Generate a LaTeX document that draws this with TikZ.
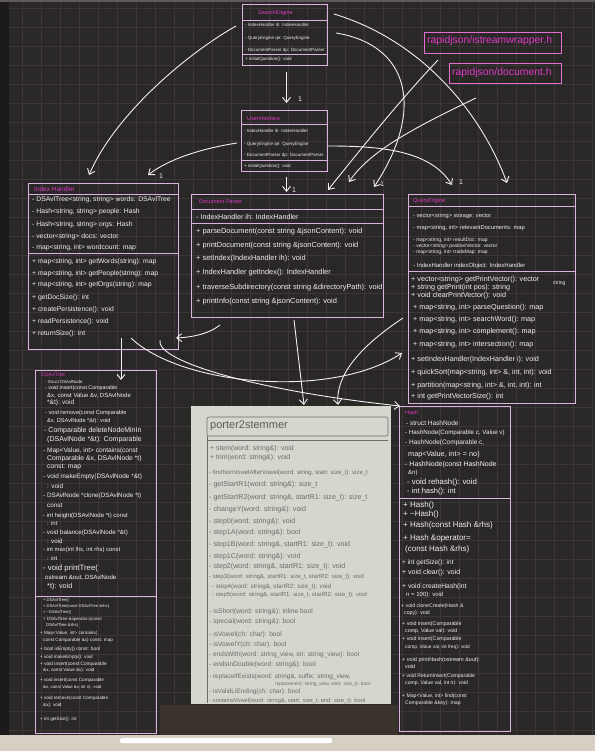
\documentclass[tikz,border=0pt]{standalone}
\usepackage{fontspec}
\setmainfont{Liberation Sans}
\usetikzlibrary{arrows.meta,calc}

\definecolor{board}{HTML}{2A2727}
\definecolor{gridc}{HTML}{3B3637}
\definecolor{boxc}{HTML}{DDB2E0}
\definecolor{titlec}{HTML}{E03CC6}
\definecolor{chalk}{HTML}{F2EEF2}
\definecolor{paper}{HTML}{D5D7CF}
\definecolor{pencil}{HTML}{6A6B68}
\definecolor{bezel}{HTML}{D6D0C4}
\definecolor{lowband}{HTML}{3A332D}
\definecolor{edge}{HTML}{1B1919}
\definecolor{topband}{HTML}{5E5A5B}

\tikzset{
  classbox/.style={draw=boxc, line width=0.9pt},
  sepline/.style={draw=boxc, line width=0.8pt},
  ttl/.style={anchor=west, text=titlec, inner sep=0pt, font=\fontsize{5.5}{6}\selectfont},
  row/.style={anchor=west, text=chalk, inner sep=0pt, font=\fontsize{#1}{#1}\selectfont},
  row/.default=5,
  prow/.style={anchor=west, text=pencil, inner sep=0pt, font=\fontsize{#1}{#1}\selectfont},
  prow/.default=7.1,
  conn/.style={draw=chalk, line width=0.9pt, -{Straight Barb[length=5pt,width=8pt]}},
  mult/.style={text=chalk, inner sep=0pt, font=\fontsize{7}{8}\selectfont},
  headertext/.style={text=titlec, inner sep=0pt, font=\fontsize{10.4}{11}\selectfont},
  headerframe/.style={draw=titlec!75!white, line width=0.8pt}
}

\begin{document}
\begin{tikzpicture}[x=1pt,y=-1pt]
% board and its grid
\fill[board] (0,0) rectangle (595,751);
\useasboundingbox (0,0) rectangle (595,751);
\foreach \gx in {3,22,...,595} \draw[gridc, line width=0.5pt] (\gx,0) -- (\gx,735);
\foreach \gy in {8,27,...,735} \draw[gridc, line width=0.5pt] (0,\gy) -- (595,\gy);
\fill[edge] (0,0) rectangle (9,735);
\fill[topband] (0,0) rectangle (595,2.5);

% ---------------- SearchEngine
\draw[classbox] (242,4) rectangle (327,65);
\node[ttl] (se-t) at (258,13) {SearchEngine};
\draw[sepline] (242,20) -- (327,20);
\draw[sepline] (242,54) -- (327,54);
\node[row=4.5] (se-a1) at (245,25) {- IndexHandler ih: IndexHandler};
\node[row=4.5] (se-a2) at (245,38) {- QueryEngine qe: QueryEngine};
\node[row=4.5] (se-a3) at (245,50) {- DocumentParser dp: DocumentParser};
\node[row=4.5] (se-m1) at (245,59.5) {+ initialQuestion(): void};

% ---------------- UserInterface
\draw[classbox] (241,110) rectangle (327,171);
\node[ttl] (ui-t) at (247,119) {UserInterface};
\draw[sepline] (241,124) -- (327,124);
\draw[sepline] (241,160) -- (327,160);
\node[row=4.5] (ui-a1) at (244,131) {- IndexHandler ih: IndexHandler};
\node[row=4.5] (ui-a2) at (244,144) {- QueryEngine qe: QueryEngine};
\node[row=4.5] (ui-a3) at (244,155) {- DocumentParser dp: DocumentParser};
\node[row=4.5] (ui-m1) at (244,166) {+ initialQuestion(): void};

% ---------------- Index Handler
\draw[classbox] (28,183) rectangle (178,349);
\node[ttl, font=\fontsize{6.5}{7}\selectfont] (ih-t) at (34,189) {Index Handler};
\draw[sepline] (28,194) -- (178,194);
\draw[sepline] (28,253) -- (178,253);
\node[row=6.8] (ih-a1) at (32,200) {- DSAvlTree<string, string> words: DSAvlTree};
\node[row=6.8] (ih-a2) at (32,212) {- Hash<string, string> people: Hash};
\node[row=6.8] (ih-a3) at (32,225) {- Hash<string, string> orgs: Hash};
\node[row=6.8] (ih-a4) at (32,237) {- vector<string> docs: vector};
\node[row=6.8] (ih-a5) at (32,248) {- map<string, int> wordcount: map};
\node[row=6.8] (ih-m1) at (32,262) {+ map<string, int> getWords(string): map};
\node[row=6.8] (ih-m2) at (32,274) {+ map<string, int> getPeople(string): map};
\node[row=6.8] (ih-m3) at (32,285) {+ map<string, int> getOrgs(string): map};
\node[row=6.8] (ih-m4) at (32,298) {+ getDocSize(): int};
\node[row=6.8] (ih-m5) at (32,310) {+ createPersistence(): void};
\node[row=6.8] (ih-m6) at (32,322) {+ readPersistence(): void};
\node[row=6.8] (ih-m7) at (32,334) {+ returnSize(): int};

% ---------------- Document Parser
\draw[classbox] (191,194) rectangle (383,317);
\node[ttl] (dp-t) at (199,202) {Document Parser};
\draw[sepline] (191,209) -- (383,209);
\draw[sepline] (191,223) -- (383,223);
\node[row=7.2] (dp-a1) at (196,217) {- IndexHandler ih: IndexHandler};
\node[row=7.4] (dp-m1) at (196,232) {+ parseDocument(const string \&jsonContent): void};
\node[row=7.4] (dp-m2) at (196,246) {+ printDocument(const string \&jsonContent): void};
\node[row=7.4] (dp-m3) at (196,259) {+ setIndex(IndexHandler ih): void};
\node[row=7.4] (dp-m4) at (196,273) {+ IndexHandler getIndex(): IndexHandler};
\node[row=7.4] (dp-m5) at (196,288) {+ traverseSubdirectory(const string \&directoryPath): void};
\node[row=7.4] (dp-m6) at (196,302) {+ printInfo(const string \&jsonContent): void};

% ---------------- QueryEngine
\draw[classbox] (408,194) rectangle (575,403);
\node[ttl] (qe-t) at (413,201) {QueryEngine};
\draw[sepline] (408,206) -- (575,206);
\draw[sepline] (408,271) -- (575,271);
\node[row=5.6] (qe-a1) at (413,216) {- vector<string> storage: vector};
\node[row=5.8] (qe-a2) at (413,228) {- map<string, int> relevantDocuments: map};
\node[row=5] (qe-a3) at (413,240) {- map<string, int> resultDoc: map};
\node[row=5] (qe-a4) at (413,246) {- vector<string> positiveVector: vector};
\node[row=5] (qe-a5) at (413,252) {- map<string, int> tradeMap: map};
\node[row=6] (qe-a6) at (413,266) {- IndexHandler indexObject: IndexHandler};
\node[row=7.2] (qe-m1) at (411,280) {+ vector<string> getPrintVector(): vector};
\node[row=7.2] (qe-m2) at (411,288) {+ string getPrint(int pos): string};
\node[row=5] (qe-m2b) at (553,283) {string};
\node[row=7.2] (qe-m3) at (411,296) {+ void clearPrintVector(): void};
\node[row=7.2] (qe-m4) at (413,308) {+ map<string, int> parseQuestion(): map};
\node[row=7.2] (qe-m5) at (413,320) {+ map<string, int> searchWord(): map};
\node[row=7.2] (qe-m6) at (413,332) {+ map<string, int> complement(): map};
\node[row=7.2] (qe-m7) at (413,345) {+ map<string, int> intersection(): map};
\node[row=7.2] (qe-m8) at (411,360) {+ setIndexHandler(IndexHandler i): void};
\node[row=7.2] (qe-m9) at (411,373) {+ quickSort(map<string, int> \&, int, int): void};
\node[row=7.2] (qe-m10) at (411,386) {+ partition(map<string, int> \&, int, int): int};
\node[row=7.2] (qe-m11) at (411,397) {+ int getPrintVectorSize(): int};

% ---------------- Hash
\draw[classbox] (399,406) rectangle (510,731);
\node[ttl] (hs-t) at (405,413) {Hash};
\draw[sepline] (399,498) -- (510,498);
\node[row=6.5] (hs-a1) at (406,423) {- struct HashNode};
\node[row=6.2] (hs-a2) at (405,433) {- HashNode(Comparable c, Value v)};
\node[row=6.5] (hs-a3) at (405,443) {- HashNode(Comparable c,};
\node[row=7.3] (hs-a4) at (408,455) {map<Value, int> = no)};
\node[row=7] (hs-a5) at (405,465) {- HashNode(const HashNode};
\node[row=6] (hs-a6) at (408,473) {\&n)};
\node[row=7.8] (hs-a7) at (407,482) {- void rehash(): void};
\node[row=7.5] (hs-a8) at (407,492) {- int hash(): int};
\node[row=8] (hs-m1) at (403,505) {+ Hash()};
\node[row=8] (hs-m2) at (403,514) {+ \textasciitilde Hash()};
\node[row=8] (hs-m3) at (403,525) {+ Hash(const Hash \&rhs)};
\node[row=8] (hs-m4) at (403,538) {+ Hash \&operator=};
\node[row=8] (hs-m5) at (405,549) {(const Hash \&rhs)};
\node[row=6.5] (hs-m6) at (402,563) {+ int getSize(): int};
\node[row=7] (hs-m7) at (402,573) {+ void clear(): void};
\node[row=6.8] (hs-m8) at (402,587) {+ void createHash(int};
\node[row=6] (hs-m9) at (406,595) {n = 100): void};
\node[row=5.2] (hs-m10) at (401,606) {+ void cloneCreate(Hash \&};
\node[row=5.2] (hs-m11) at (404,613) {copy): void};
\node[row=5.3] (hs-m12) at (402,624) {+ void insert(Comparable};
\node[row=5.3] (hs-m13) at (405,631) {comp, Value val): void};
\node[row=5.3] (hs-m14) at (402,639) {+ void insert(Comparable};
\node[row=4.8] (hs-m15) at (405,647) {comp, Value val, int freq): void};
\node[row=5.5] (hs-m16) at (402,660) {+ void printHash(ostream \&out):};
\node[row=5.5] (hs-m17) at (405,667) {void};
\node[row=5.1] (hs-m18) at (402,676) {+ void ReturnInsert(Comparable};
\node[row=5.1] (hs-m19) at (405,683) {comp, Value val, int n): void};
\node[row=5.1] (hs-m20) at (402,696) {+ Map<Value, int> find(const};
\node[row=5.1] (hs-m21) at (405,703) {Comparable \&key): map};

% ---------------- DSAvlTree
\draw[classbox] (35,370) rectangle (156,733);
\node[ttl, font=\fontsize{5}{6}\selectfont] (av-t) at (41,375) {DSAvlTree};
\draw[sepline] (35,596) -- (156,596);
\node[row=4.3] (av-a1) at (45,382) {- Struct DSAvlNode};
\node[row=5.3] (av-a2) at (45,388.5) {- void insert(const Comparable};
\node[row=6] (av-a3) at (47,395.5) {\&x, const Value \&v, DSAvlNode};
\node[row=6.5] (av-a4) at (47,403) {*\&t): void};
\node[row=5.6] (av-a5) at (45,413) {- void remove(const Comparable};
\node[row=5.6] (av-a6) at (47,421) {\&x, DSAvlNode *\&t): void};
\node[row=7] (av-a7) at (44,431) {- Comparable deleteNodeMinIn};
\node[row=7] (av-a8) at (47,440) {(DSAvlNode *\&t): Comparable};
\node[row=6.5] (av-a9) at (43,451) {- Map<Value, int> contains(const};
\node[row=6.8] (av-a10) at (47,459) {Comparable \&x, DSAvlNode *t)};
\node[row=6.8] (av-a11) at (47,467) {const: map};
\node[row=6.4] (av-a12) at (43,477) {- void makeEmpty(DSAvlNode *\&t)};
\node[row=6.4] (av-a13) at (47,486) {: void};
\node[row=6.3] (av-a14) at (43,496) {- DSAvlNode *clone(DSAvlNode *t)};
\node[row=6.3] (av-a15) at (47,505) {const};
\node[row=6] (av-a16) at (43,516) {- int height(DSAvlNode *t) const};
\node[row=6] (av-a17) at (47,523) {: int};
\node[row=6.2] (av-a18) at (43,533) {- void balance(DSAvlNode *\&t)};
\node[row=6.2] (av-a19) at (47,541) {: void};
\node[row=5.9] (av-a20) at (43,550) {- int max(int lhs, int rhs) const};
\node[row=5.9] (av-a21) at (47,558) {: int};
\node[row=7.8] (av-a22) at (43,568) {- void printTree(};
\node[row=6.1] (av-a23) at (45,578) {ostream \&out, DSAvlNode};
\node[row=7.2] (av-a24) at (47,587) {*t): void};
\node[row=4.1] (av-m1) at (43,600) {+ DSAvlTree()};
\node[row=4.1] (av-m2) at (43,606) {+ DSAvlTree(const DSAvlTree \&rhs)};
\node[row=4.1] (av-m3) at (43,612) {+ \textasciitilde DSAvlTree()};
\node[row=4.3] (av-m4) at (43,619) {+ DSAvlTree \&operator=(const};
\node[row=4.3] (av-m5) at (46,625) {DSAvlTree \&rhs)};
\node[row=4.6] (av-m6) at (40,633) {+ Map<Value, int> contains(};
\node[row=4.6] (av-m7) at (43,640) {const Comparable \&x) const: map};
\node[row=4.8] (av-m8) at (40,649) {+ bool isEmpty() const: bool};
\node[row=4.6] (av-m9) at (40,657) {+ void makeEmpty(): void};
\node[row=4.8] (av-m10) at (40,664) {+ void insert(const Comparable};
\node[row=4.6] (av-m11) at (43,670) {\&x, const Value \&v): void};
\node[row=4.6] (av-m12) at (40,680) {+ void insert(const Comparable};
\node[row=4.3] (av-m13) at (43,687) {\&x, const Value \&v, int n): void};
\node[row=4.6] (av-m14) at (40,698) {+ void remove(const Comparable};
\node[row=4.6] (av-m15) at (43,705) {\&x): void};
\node[row=4.6] (av-m16) at (40,719) {+ int getSize(): int};

% ---------------- porter2stemmer (pencil sheet)
\fill[paper] (191,406) rectangle (391,704);
\draw[pencil, line width=0.6pt, rounded corners=2pt] (207,436) -- (207,417) -- (388,417) -- (388,436) -- cycle;
\draw[pencil, line width=0.6pt] (207,440) -- (388,440);
\draw[pencil, line width=0.6pt] (207,436) -- (207,703);
\node[prow=11, text=pencil!85!black] (ps-t) at (210,426) {porter2stemmer};
\node[prow=6.9] (ps-1) at (210,449) {+ stem(word: string\&): void};
\node[prow=6.9] (ps-2) at (210,458) {+ trim(word: string\&): void};
\node[prow=6] (ps-3) at (209,473) {- firstNonVowelAfterVowel(word: string, start: size\_t): size\_t};
\node[prow] (ps-4) at (209,485) {- getStartR1(word: string\&): size\_t};
\node[prow] (ps-5) at (209,498) {- getStartR2(word: string\&, startR1: size\_t): size\_t};
\node[prow] (ps-6) at (209,510) {- changeY(word: string\&): void};
\node[prow] (ps-7) at (209,522) {- step0(word: string\&): void};
\node[prow] (ps-8) at (209,533) {- step1A(word: string\&): bool};
\node[prow] (ps-9) at (209,545) {- step1B(word: string\&, startR1: size\_t): void};
\node[prow] (ps-10) at (209,557) {- step1C(word: string\&): void};
\node[prow] (ps-11) at (209,567) {- step2(word: string\&, startR1: size\_t): void};
\node[prow=5.9] (ps-12) at (209,577) {- step3(word: string\&, startR1: size\_t, startR2: size\_t): void};
\node[prow=6.2] (ps-13) at (212,587) {- step4(word: string\&, startR2: size\_t): void};
\node[prow=5.9] (ps-14) at (212,595) {- step5(word: string\&, startR1: size\_t, startR2: size\_t): void};
\node[prow=6.7] (ps-15) at (209,612) {- isShort(word: string\&): inline bool};
\node[prow=6.7] (ps-16) at (209,622) {- special(word: string\&): bool};
\node[prow=6.7] (ps-17) at (209,635) {- isVowel(ch: char): bool};
\node[prow=6.7] (ps-18) at (209,645) {- isVowelY(ch: char): bool};
\node[prow=6.5] (ps-19) at (209,655) {- endsWith(word: string\_view, str: string\_view): bool};
\node[prow=6.7] (ps-20) at (209,665) {- endsInDouble(word: string\&): bool};
\node[prow=6.4] (ps-21) at (209,677) {- replaceIfExists(word: string\&, suffix: string\_view,};
\node[prow=4.8] (ps-22) at (275,684) {replacement: string\_view, start: size\_t): bool};
\node[prow=6.4] (ps-23) at (209,692) {- isValidLiEnding(ch: char): bool};
\node[prow=5.7] (ps-24) at (209,701) {- containsVowel(word: string\&, start: size\_t, end: size\_t): bool};

% ---------------- header files
\draw[headerframe] (424,32) rectangle (561,53);
\node[headertext, anchor=west] (rj1) at (427,41) {rapidjson/istreamwrapper.h};
\draw[headerframe] (449,63) rectangle (561,83);
\node[headertext, anchor=west] (rj2) at (452,73) {rapidjson/document.h};

% ---------------- device edge
\fill[lowband] (160,705) rectangle (398,735);
\fill[bezel] (0,735) rectangle (595,751);
\fill[white, rounded corners=2pt] (120,738) rectangle (332,743);

% ---------------- connectors
\draw[conn] (286.5,72) -- (286.5,103);
\node[mult] (m-seui) at (300,99) {1};
\draw[conn] (286.5,177) -- (286.5,192);
\node[mult] (m-uidp) at (294,190) {1};
% SearchEngine to Index Handler and Query Engine
\draw[conn] (236,26) .. controls (185,55) and (115,115) .. (89,175);
\draw[conn] (334,14) .. controls (420,40) and (480,110) .. (507,183);
% SearchEngine to Document Parser
\draw[conn] (336,33) .. controls (410,45) and (425,110) .. (374,187);
\node[mult] (m-sedp) at (382,184) {1};
% UserInterface to Index Handler and Query Engine
\draw[conn] (237,143) .. controls (205,148) and (170,158) .. (148,175);
\node[mult] (m-uiih) at (161,176) {1};
\draw[conn] (328,146) .. controls (380,146) and (430,150) .. (452,185);
\node[mult] (m-uiqe) at (461,182) {1};
% header files to Document Parser
\draw[conn] (438,60) .. controls (400,100) and (360,150) .. (328,190);
\draw[conn] (476,98) .. controls (420,125) and (370,150) .. (349,182);
% lower connectors
\draw[conn] (121,338) -- (121,380);
\draw[conn] (220,325) .. controls (210,333) and (195,337) .. (176,338);
\draw[conn] (294,320) -- (304,405);
\draw[conn] (403,318) .. controls (370,340) and (335,370) .. (338,405);
\draw[conn] (131,338) .. controls (180,385) and (330,400) .. (402,353);
\draw[conn] (160,340) .. controls (155,360) and (250,390) .. (400,406);
\end{tikzpicture}
\end{document}
